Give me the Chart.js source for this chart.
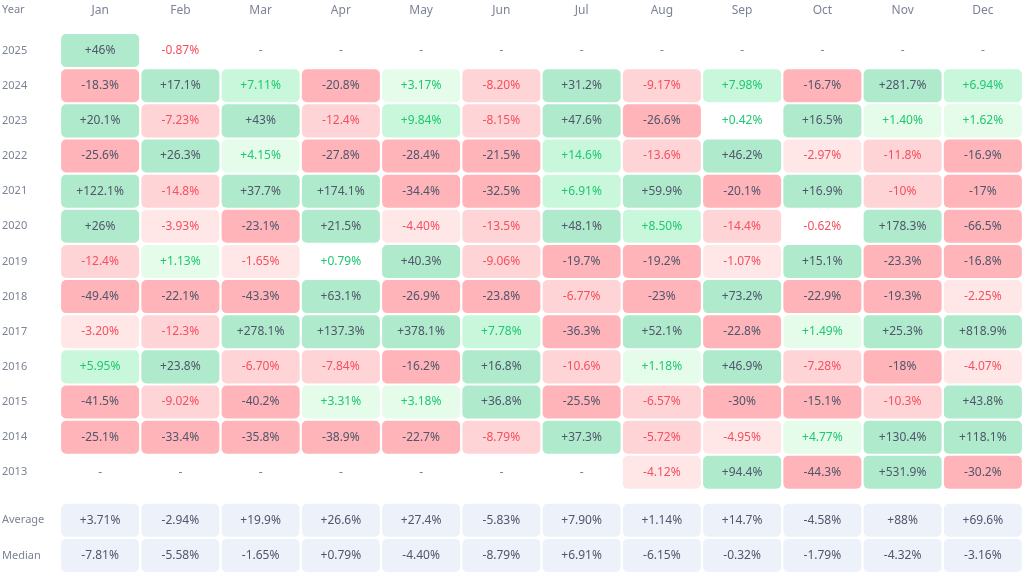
<!DOCTYPE html>
<html>
<head>
<meta charset="utf-8">
<script src="https://cdn.jsdelivr.net/npm/chart.js@4"></script>
<style>
  html, body { margin: 0; padding: 0; background: #fff; }
  #wrap { width: 1024px; height: 573px; position: relative; }
</style>
</head>
<body>
<div id="wrap"><canvas id="heatmap"></canvas></div>
<script>
const months = ['Jan', 'Feb', 'Mar', 'Apr', 'May', 'Jun', 'Jul', 'Aug', 'Sep', 'Oct', 'Nov', 'Dec'];
const years = ['2025', '2024', '2023', '2022', '2021', '2020', '2019', '2018', '2017', '2016', '2015', '2014', '2013'];

// monthly returns in %, one row per year, null = no data
const returnsByYear = [
    [46, -0.87, null, null, null, null, null, null, null, null, null, null],
    [-18.3, 17.1, 7.11, -20.8, 3.17, -8.20, 31.2, -9.17, 7.98, -16.7, 281.7, 6.94],
    [20.1, -7.23, 43, -12.4, 9.84, -8.15, 47.6, -26.6, 0.42, 16.5, 1.40, 1.62],
    [-25.6, 26.3, 4.15, -27.8, -28.4, -21.5, 14.6, -13.6, 46.2, -2.97, -11.8, -16.9],
    [122.1, -14.8, 37.7, 174.1, -34.4, -32.5, 6.91, 59.9, -20.1, 16.9, -10, -17],
    [26, -3.93, -23.1, 21.5, -4.40, -13.5, 48.1, 8.50, -14.4, -0.62, 178.3, -66.5],
    [-12.4, 1.13, -1.65, 0.79, 40.3, -9.06, -19.7, -19.2, -1.07, 15.1, -23.3, -16.8],
    [-49.4, -22.1, -43.3, 63.1, -26.9, -23.8, -6.77, -23, 73.2, -22.9, -19.3, -2.25],
    [-3.20, -12.3, 278.1, 137.3, 378.1, 7.78, -36.3, 52.1, -22.8, 1.49, 25.3, 818.9],
    [5.95, 23.8, -6.70, -7.84, -16.2, 16.8, -10.6, 1.18, 46.9, -7.28, -18, -4.07],
    [-41.5, -9.02, -40.2, 3.31, 3.18, 36.8, -25.5, -6.57, -30, -15.1, -10.3, 43.8],
    [-25.1, -33.4, -35.8, -38.9, -22.7, -8.79, 37.3, -5.72, -4.95, 4.77, 130.4, 118.1],
    [null, null, null, null, null, null, null, -4.12, 94.4, -44.3, 531.9, -30.2]
];
const averageReturns = [3.71, -2.94, 19.9, 26.6, 27.4, -5.83, 7.90, 1.14, 14.7, -4.58, 88, 69.6];
const medianReturns = [-7.81, -5.58, -1.65, 0.79, -4.40, -8.79, 6.91, -6.15, -0.32, -1.79, -4.32, -3.16];

const colors = {
    greenStrong: '#aeeacb',
    greenMid: '#c9f7db',
    greenLight: '#e5fcea',
    redStrong: '#ffb4b9',
    redMid: '#ffd4d7',
    redLight: '#ffe6e7',
    summary: '#edf2fa',
    textDark: '#50566b',
    textGreen: '#1fc873',
    textRed: '#f5505e',
    label: '#7b8394'
};
const FONT = "'Noto Sans', 'Open Sans', sans-serif";

const rowLabels = years.concat(['Average', 'Median']);
const rowValues = returnsByYear.concat([averageReturns, medianReturns]);
const summaryGap = 0.365;
const rowPos = rowLabels.map((l, i) => i < years.length ? i : i + summaryGap);
const half = 0.47;

function fmt(v) {
    const sign = v > 0 ? '+' : '';
    const a = Math.abs(v);
    const s = a < 10 ? v.toFixed(2) : v.toFixed(1).replace(/\.0$/, '');
    return sign + s + '%';
}

function tier(v) {
    if (v >= 15) return 'greenStrong';
    if (v >= 5) return 'greenMid';
    if (v >= 1) return 'greenLight';
    if (v > 0) return 'greenNone';
    if (v <= -15) return 'redStrong';
    if (v <= -5) return 'redMid';
    if (v <= -1) return 'redLight';
    return 'redNone';
}

function cellBg(v, summary) {
    if (summary) return colors.summary;
    const t = tier(v);
    return colors[t] || 'rgba(0,0,0,0)';
}

function cellText(v, summary) {
    if (summary) return colors.textDark;
    const t = tier(v);
    if (t.endsWith('Strong')) return colors.textDark;
    return v > 0 ? colors.textGreen : colors.textRed;
}

const datasets = rowValues.map((vals, r) => {
    const summary = r >= years.length;
    return {
        label: rowLabels[r],
        data: vals.map(v => v == null ? null : [rowPos[r] - half, rowPos[r] + half]),
        backgroundColor: vals.map(v => v == null ? 'rgba(0,0,0,0)' : cellBg(v, summary)),
        borderWidth: 0,
        borderRadius: 5,
        borderSkipped: false,
        barPercentage: 0.972,
        categoryPercentage: 1,
        grouped: false
    };
});

const cellLabels = {
    id: 'cellLabels',
    afterDatasetsDraw(chart) {
        const ctx = chart.ctx;
        const xs = chart.scales.x;
        const ys = chart.scales.y;
        ctx.save();
        ctx.font = '12px ' + FONT;
        ctx.textAlign = 'center';
        ctx.textBaseline = 'middle';
        rowValues.forEach((vals, r) => {
            const summary = r >= years.length;
            const y = ys.getPixelForValue(rowPos[r]);
            vals.forEach((v, j) => {
                const x = xs.getPixelForValue(j);
                if (v == null) {
                    ctx.fillStyle = colors.label;
                    ctx.fillText('-', x, y);
                } else {
                    ctx.fillStyle = cellText(v, summary);
                    ctx.fillText(fmt(v), x, y);
                }
            });
        });
        // corner header
        ctx.font = '11px ' + FONT;
        ctx.textAlign = 'left';
        ctx.fillStyle = colors.label;
        ctx.fillText('Year', 2, 10);
        ctx.restore();
    }
};

new Chart(document.getElementById('heatmap').getContext('2d'), {
    type: 'bar',
    data: { labels: months, datasets: datasets },
    options: {
        responsive: true,
        maintainAspectRatio: false,
        animation: false,
        layout: { padding: { left: 2, right: 1, top: 0, bottom: 0 } },
        plugins: { legend: { display: false }, tooltip: { enabled: false } },
        scales: {
            x: {
                type: 'category',
                position: 'top',
                grid: { display: false },
                border: { display: false },
                ticks: { color: colors.label, font: { family: FONT, size: 12 }, padding: 7 },
                afterFit: s => { s.height = 33; s.paddingLeft = 0; s.paddingRight = 0; }
            },
            y: {
                type: 'linear',
                reverse: true,
                min: -0.5,
                max: rowPos[rowPos.length - 1] + 0.5,
                grid: { display: false },
                border: { display: false },
                afterBuildTicks: s => { s.ticks = rowPos.map(p => ({ value: p })); },
                ticks: {
                    autoSkip: false,
                    crossAlign: 'far',
                    color: colors.label,
                    font: { family: FONT, size: 11 },
                    callback: (val, i) => rowLabels[i]
                },
                afterFit: s => { s.width = 58; s.paddingTop = 0; s.paddingBottom = 0; }
            }
        }
    },
    plugins: [cellLabels]
});
</script>
</body>
</html>
